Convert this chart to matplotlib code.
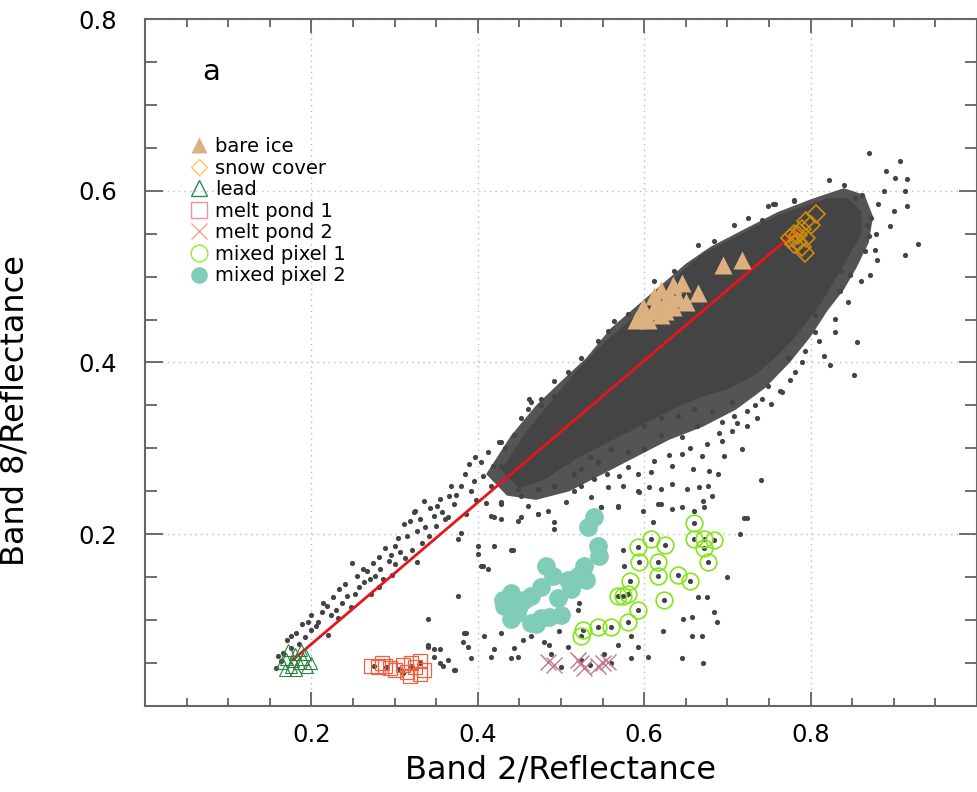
import matplotlib
matplotlib.use('Agg')
import matplotlib.pyplot as plt
from matplotlib.lines import Line2D
from matplotlib.ticker import MultipleLocator

# outline of the solid part of the point cloud (upper edge then lower edge)
core_x = [0.43, 0.46, 0.49, 0.52, 0.55, 0.58, 0.61, 0.64, 0.67, 0.70, 0.73, 0.76, 0.79, 0.82, 0.845, 0.86,
          0.86, 0.845, 0.83, 0.815, 0.80, 0.78, 0.755, 0.73, 0.70, 0.665, 0.63, 0.60, 0.57, 0.54, 0.51, 0.48, 0.45]
core_y = [0.275, 0.32, 0.355, 0.39, 0.42, 0.445, 0.475, 0.50, 0.525, 0.54, 0.555, 0.57, 0.58, 0.59, 0.59, 0.575,
          0.55, 0.525, 0.50, 0.475, 0.455, 0.43, 0.405, 0.385, 0.37, 0.36, 0.345, 0.33, 0.315, 0.30, 0.285, 0.265, 0.255]

# outline of the speckled fringe round the core
fringe_x = [0.41, 0.44, 0.47, 0.50, 0.53, 0.56, 0.59, 0.62, 0.65, 0.68, 0.72, 0.76, 0.80, 0.84, 0.865, 0.875,
            0.87, 0.855, 0.84, 0.82, 0.80, 0.775, 0.745, 0.71, 0.67, 0.63, 0.59, 0.55, 0.51, 0.47, 0.435]
fringe_y = [0.27, 0.315, 0.35, 0.378, 0.405, 0.44, 0.465, 0.49, 0.515, 0.535, 0.555, 0.575, 0.59, 0.603, 0.595, 0.57,
            0.54, 0.51, 0.485, 0.46, 0.43, 0.40, 0.37, 0.345, 0.325, 0.31, 0.29, 0.27, 0.25, 0.24, 0.245]

# lower-left tail of the cloud
tail_pts = [(0.157, 0.044), (0.163, 0.052), (0.166, 0.062), (0.171, 0.077), (0.181, 0.085), (0.189, 0.095),
            (0.199, 0.106), (0.199, 0.089), (0.208, 0.098), (0.213, 0.109), (0.219, 0.116), (0.223, 0.106),
            (0.220, 0.083), (0.229, 0.112), (0.233, 0.136), (0.237, 0.120), (0.243, 0.128), (0.247, 0.115),
            (0.249, 0.167), (0.255, 0.151), (0.257, 0.138), (0.263, 0.144), (0.267, 0.157), (0.271, 0.130),
            (0.277, 0.151), (0.281, 0.174), (0.283, 0.160), (0.289, 0.184), (0.293, 0.169), (0.297, 0.153),
            (0.301, 0.186), (0.307, 0.179), (0.311, 0.212), (0.315, 0.198), (0.321, 0.182), (0.325, 0.227),
            (0.327, 0.204), (0.335, 0.239), (0.337, 0.208), (0.341, 0.198), (0.347, 0.221), (0.351, 0.233),
            (0.355, 0.241), (0.361, 0.218), (0.365, 0.245), (0.371, 0.235), (0.327, 0.168), (0.281, 0.139),
            (0.323, 0.226), (0.364, 0.220), (0.380, 0.256), (0.389, 0.282), (0.404, 0.284), (0.406, 0.268),
            (0.416, 0.256), (0.425, 0.308), (0.428, 0.280), (0.436, 0.268), (0.443, 0.291), (0.448, 0.253),
            (0.455, 0.311), (0.460, 0.346), (0.461, 0.358), (0.467, 0.326), (0.476, 0.350), (0.484, 0.343),
            (0.492, 0.361), (0.380, 0.202), (0.376, 0.194), (0.419, 0.220), (0.428, 0.218), (0.448, 0.215),
            (0.460, 0.233), (0.472, 0.223), (0.484, 0.227), (0.492, 0.214), (0.492, 0.206), (0.419, 0.186),
            (0.440, 0.182), (0.400, 0.186), (0.404, 0.163), (0.412, 0.159), (0.452, 0.245), (0.472, 0.253),
            (0.428, 0.237), (0.443, 0.264), (0.492, 0.256), (0.480, 0.276), (0.395, 0.262), (0.412, 0.296),
            (0.433, 0.300), (0.398, 0.240), (0.175, 0.068), (0.185, 0.072), (0.205, 0.093), (0.240, 0.142),
            (0.160, 0.058), (0.176, 0.082), (0.192, 0.080), (0.196, 0.098), (0.214, 0.120), (0.226, 0.127),
            (0.232, 0.102), (0.252, 0.130), (0.262, 0.160), (0.274, 0.166), (0.286, 0.148), (0.296, 0.176),
            (0.304, 0.196), (0.312, 0.172), (0.318, 0.216), (0.331, 0.218), (0.333, 0.190), (0.343, 0.230),
            (0.357, 0.226), (0.368, 0.256), (0.374, 0.246), (0.384, 0.270), (0.392, 0.250), (0.386, 0.224),
            (0.396, 0.290), (0.410, 0.236), (0.418, 0.280), (0.300, 0.165), (0.270, 0.148), (0.350, 0.210)]

# speckled points around the solid core
halo_pts = [(0.536, 0.243), (0.548, 0.232), (0.569, 0.232), (0.599, 0.227), (0.611, 0.214), (0.620, 0.235),
            (0.633, 0.229), (0.645, 0.232), (0.660, 0.227), (0.672, 0.232), (0.720, 0.219), (0.740, 0.263),
            (0.717, 0.299), (0.696, 0.291), (0.689, 0.270), (0.677, 0.256), (0.666, 0.255), (0.651, 0.253),
            (0.633, 0.258), (0.620, 0.253), (0.606, 0.255), (0.593, 0.250), (0.575, 0.256), (0.557, 0.255),
            (0.540, 0.264), (0.524, 0.256), (0.516, 0.250), (0.506, 0.237), (0.581, 0.278), (0.608, 0.273),
            (0.633, 0.280), (0.659, 0.276), (0.678, 0.274), (0.645, 0.294), (0.669, 0.291), (0.693, 0.309),
            (0.705, 0.320), (0.723, 0.326), (0.708, 0.338), (0.723, 0.344), (0.693, 0.331), (0.663, 0.326),
            (0.645, 0.313), (0.620, 0.315), (0.600, 0.299), (0.581, 0.296), (0.560, 0.299), (0.545, 0.284),
            (0.524, 0.276), (0.508, 0.284), (0.763, 0.367), (0.741, 0.358), (0.749, 0.373), (0.733, 0.350),
            (0.705, 0.354), (0.681, 0.343), (0.660, 0.346), (0.641, 0.338), (0.620, 0.335), (0.600, 0.326),
            (0.581, 0.323), (0.560, 0.315), (0.540, 0.308), (0.520, 0.303), (0.500, 0.295), (0.515, 0.270),
            (0.564, 0.448), (0.581, 0.457), (0.612, 0.495), (0.636, 0.506), (0.665, 0.537), (0.684, 0.542),
            (0.708, 0.560), (0.725, 0.568), (0.749, 0.582), (0.755, 0.585), (0.780, 0.589), (0.557, 0.437),
            (0.545, 0.425), (0.524, 0.405), (0.508, 0.389), (0.492, 0.378), (0.476, 0.358), (0.464, 0.354),
            (0.452, 0.335), (0.443, 0.315), (0.428, 0.308),
            (0.870, 0.644), (0.907, 0.635), (0.890, 0.623), (0.901, 0.615), (0.916, 0.614), (0.913, 0.600),
            (0.888, 0.600), (0.881, 0.584), (0.900, 0.577), (0.916, 0.582), (0.895, 0.559), (0.873, 0.568),
            (0.929, 0.538), (0.913, 0.525), (0.870, 0.547), (0.877, 0.531), (0.880, 0.519), (0.871, 0.502),
            (0.847, 0.502), (0.835, 0.483), (0.829, 0.451), (0.856, 0.424), (0.823, 0.397), (0.816, 0.408),
            (0.852, 0.385), (0.805, 0.436), (0.829, 0.436), (0.793, 0.413), (0.773, 0.405), (0.765, 0.366),
            (0.781, 0.389), (0.805, 0.455), (0.837, 0.506), (0.865, 0.530), (0.853, 0.592), (0.840, 0.607),
            (0.822, 0.612), (0.780, 0.588), (0.757, 0.584), (0.741, 0.566), (0.862, 0.595), (0.868, 0.560),
            (0.690, 0.318), (0.675, 0.305), (0.655, 0.300), (0.630, 0.292), (0.612, 0.285), (0.592, 0.270),
            (0.570, 0.268), (0.555, 0.270), (0.535, 0.290), (0.712, 0.330), (0.735, 0.335), (0.752, 0.352),
            (0.775, 0.380), (0.790, 0.400), (0.810, 0.425), (0.845, 0.470), (0.860, 0.495), (0.878, 0.550)]

# sparse points below the main cloud
sparse_pts = [(0.416, 0.221), (0.428, 0.235), (0.452, 0.220), (0.472, 0.223), (0.400, 0.177), (0.406, 0.163),
              (0.442, 0.182), (0.376, 0.128), (0.340, 0.101), (0.383, 0.085), (0.407, 0.081), (0.428, 0.085),
              (0.454, 0.077), (0.464, 0.081), (0.486, 0.071), (0.498, 0.087), (0.508, 0.069), (0.524, 0.054),
              (0.552, 0.060), (0.569, 0.071), (0.584, 0.081), (0.593, 0.069), (0.605, 0.057), (0.645, 0.056),
              (0.657, 0.081), (0.671, 0.050), (0.669, 0.082), (0.647, 0.101), (0.657, 0.104), (0.684, 0.109),
              (0.687, 0.098), (0.665, 0.127), (0.675, 0.127), (0.623, 0.087), (0.584, 0.056), (0.440, 0.056),
              (0.416, 0.057), (0.392, 0.056), (0.382, 0.074), (0.371, 0.042), (0.355, 0.050), (0.347, 0.066),
              (0.340, 0.071), (0.520, 0.112), (0.522, 0.120), (0.723, 0.219), (0.681, 0.245), (0.671, 0.239),
              (0.617, 0.235), (0.594, 0.249), (0.569, 0.233), (0.548, 0.232), (0.575, 0.182), (0.576, 0.163),
              (0.340, 0.069), (0.355, 0.066), (0.364, 0.054), (0.373, 0.042), (0.358, 0.046), (0.347, 0.057),
              (0.386, 0.085), (0.388, 0.069), (0.419, 0.066), (0.443, 0.068), (0.448, 0.057), (0.480, 0.074),
              (0.488, 0.060), (0.275, 0.047), (0.290, 0.045), (0.305, 0.043), (0.320, 0.047), (0.330, 0.050),
              (0.310, 0.038), (0.500, 0.045), (0.535, 0.048), (0.560, 0.050), (0.700, 0.150), (0.715, 0.200)]

# labelled sample classes
bare_ice_x = [0.717, 0.695, 0.665, 0.645, 0.600, 0.610, 0.620, 0.625, 0.635, 0.630, 0.640, 0.615, 0.605,
              0.620, 0.635, 0.650, 0.598, 0.625, 0.590, 0.612]
bare_ice_y = [0.519, 0.513, 0.481, 0.492, 0.455, 0.460, 0.455, 0.470, 0.465, 0.480, 0.475, 0.470, 0.450,
              0.485, 0.490, 0.470, 0.465, 0.460, 0.450, 0.478]
snow_x = [0.775, 0.780, 0.785, 0.790, 0.795, 0.807, 0.790, 0.793, 0.785, 0.780, 0.795, 0.800]
snow_y = [0.545, 0.550, 0.540, 0.555, 0.565, 0.573, 0.535, 0.527, 0.548, 0.538, 0.545, 0.560]
lead_x = [0.165, 0.170, 0.175, 0.180, 0.185, 0.190, 0.195, 0.172, 0.182, 0.188, 0.178, 0.200, 0.168, 0.192]
lead_y = [0.050, 0.055, 0.045, 0.060, 0.050, 0.055, 0.045, 0.065, 0.042, 0.065, 0.052, 0.050, 0.042, 0.060]
pond1_x = [0.272, 0.280, 0.288, 0.295, 0.300, 0.315, 0.320, 0.325, 0.330, 0.335, 0.318, 0.330, 0.310, 0.285]
pond1_y = [0.047, 0.045, 0.046, 0.044, 0.042, 0.040, 0.050, 0.045, 0.052, 0.042, 0.035, 0.037, 0.048, 0.050]
pond2_x = [0.484, 0.492, 0.524, 0.528, 0.520, 0.551, 0.557, 0.545]
pond2_y = [0.051, 0.048, 0.050, 0.044, 0.054, 0.050, 0.051, 0.046]
mixed1_x = [0.660, 0.660, 0.672, 0.684, 0.672, 0.677, 0.608, 0.625, 0.593, 0.594, 0.617, 0.616, 0.641,
            0.655, 0.583, 0.624, 0.569, 0.581, 0.593, 0.581, 0.560, 0.545, 0.527, 0.524, 0.575]
mixed1_y = [0.213, 0.194, 0.195, 0.193, 0.184, 0.168, 0.195, 0.187, 0.185, 0.168, 0.168, 0.151, 0.152,
            0.146, 0.145, 0.124, 0.128, 0.130, 0.112, 0.098, 0.092, 0.092, 0.089, 0.081, 0.128]
mixed2_x = [0.540, 0.532, 0.544, 0.546, 0.482, 0.490, 0.508, 0.512, 0.528, 0.530, 0.520, 0.476, 0.464, 0.440,
            0.430, 0.442, 0.449, 0.440, 0.464, 0.476, 0.496, 0.500, 0.455, 0.431, 0.470, 0.447, 0.485]
mixed2_y = [0.220, 0.209, 0.186, 0.175, 0.163, 0.151, 0.147, 0.136, 0.163, 0.147, 0.151, 0.139, 0.128, 0.132,
            0.124, 0.109, 0.116, 0.101, 0.097, 0.103, 0.126, 0.106, 0.124, 0.116, 0.096, 0.108, 0.104]

# regression line end points
fit_x = [0.178, 0.783]
fit_y = [0.054, 0.553]

DOT = '#444444'

fig = plt.figure(figsize=(9.78, 7.92), dpi=100)
ax = fig.add_axes([0.1483, 0.1086, 0.8507, 0.8674])

# grey cloud: speckled fringe, solid core, then the loose points
ax.fill(fringe_x, fringe_y, color='#545454', lw=0, zorder=1)
ax.fill(core_x, core_y, color=DOT, lw=1.5, ec=DOT, zorder=1)
for pts in (tail_pts, halo_pts, sparse_pts):
    xs, ys = zip(*pts)
    ax.scatter(xs, ys, s=14, color=DOT, lw=0, zorder=1)
ax.scatter(mixed1_x, mixed1_y, s=14, color=DOT, lw=0, zorder=1)

ax.plot(fit_x, fit_y, color='#E8141B', lw=2, zorder=2)

# classes
ax.plot(bare_ice_x, bare_ice_y, ls='none', marker='^', ms=13, mfc='#DDB17F', mec='none', zorder=3)
ax.plot(snow_x, snow_y, ls='none', marker='D', ms=9, mfc='none', mec='#CC8A0E', mew=1.2, zorder=3)
ax.plot(lead_x, lead_y, ls='none', marker='^', ms=9, mfc='none', mec='#2E8040', mew=0.8, zorder=3)
ax.plot(pond1_x, pond1_y, ls='none', marker='s', ms=10, mfc='none', mec='#F2603E', mew=0.9, zorder=3)
ax.plot(pond2_x, pond2_y, ls='none', marker='x', ms=12, mec='#C07A8A', mew=1.0, zorder=3)
ax.plot(mixed1_x, mixed1_y, ls='none', marker='o', ms=12, mfc='none', mec='#84E61A', mew=1.2, zorder=3)
ax.plot(mixed2_x, mixed2_y, ls='none', marker='o', ms=13.5, mfc='#7FCCB8', mec='none', zorder=3)

# legend
labels = ['bare ice', 'snow cover', 'lead', 'melt pond 1', 'melt pond 2', 'mixed pixel 1', 'mixed pixel 2']
handles = [
    Line2D([], [], ls='none', marker='^', ms=11, mfc='#DDB17F', mec='none'),
    Line2D([], [], ls='none', marker='D', ms=8, mfc='none', mec='#FFC266', mew=1.0),
    Line2D([], [], ls='none', marker='^', ms=11, mfc='none', mec='#2E8B57', mew=1.0),
    Line2D([], [], ls='none', marker='s', ms=12, mfc='none', mec='#E8959E', mew=1.0),
    Line2D([], [], ls='none', marker='x', ms=12, mec='#F4A090', mew=1.0),
    Line2D([], [], ls='none', marker='o', ms=12, mfc='none', mec='#8EEB3A', mew=1.0),
    Line2D([], [], ls='none', marker='o', ms=12, mfc='#7FCCB8', mec='none'),
]
ax.legend(handles, labels, loc='upper left', bbox_to_anchor=(0.054, 0.828), frameon=False,
          fontsize=14, handlelength=0.9, handletextpad=0.4, labelspacing=0.13,
          borderaxespad=0, borderpad=0)

ax.text(0.079, 0.923, 'a', transform=ax.transAxes, fontsize=21, ha='center', va='center')

# axes styling
ax.set_xlim(0, 1.0)
ax.set_ylim(0, 0.8)
ax.xaxis.set_minor_locator(MultipleLocator(0.05))
ax.yaxis.set_minor_locator(MultipleLocator(0.05))
ax.set_xticks([0.2, 0.4, 0.6, 0.8])
ax.set_xticklabels(['0.2', '0.4', '0.6', '0.8'])
ax.set_yticks([0.2, 0.4, 0.6, 0.8])
ax.set_yticklabels(['0.2', '0.4', '0.6', '0.8'])
ax.tick_params(which='both', direction='in', top=True, right=True, color='#555555', width=1.2,
               labelsize=17.5)
ax.tick_params(axis='x', which='major', length=10, pad=12)
ax.tick_params(axis='x', which='minor', length=6)
ax.tick_params(axis='y', which='major', length=13, pad=20)
ax.tick_params(axis='y', which='minor', length=8.5)
for spine in ax.spines.values():
    spine.set_color('#666666')
    spine.set_linewidth(1.5)
ax.grid(True, which='major', ls=(0, (1, 3)), color='#BBBBBB', lw=1)
ax.set_axisbelow(True)

ax.set_xlabel('Band 2/Reflectance', fontsize=23)
ax.set_ylabel('Band 8/Reflectance', fontsize=23)
ax.xaxis.set_label_coords(0.5, -0.07)
ax.yaxis.set_label_coords(-0.138, 0.43)

fig.savefig('out.png', dpi=100)
